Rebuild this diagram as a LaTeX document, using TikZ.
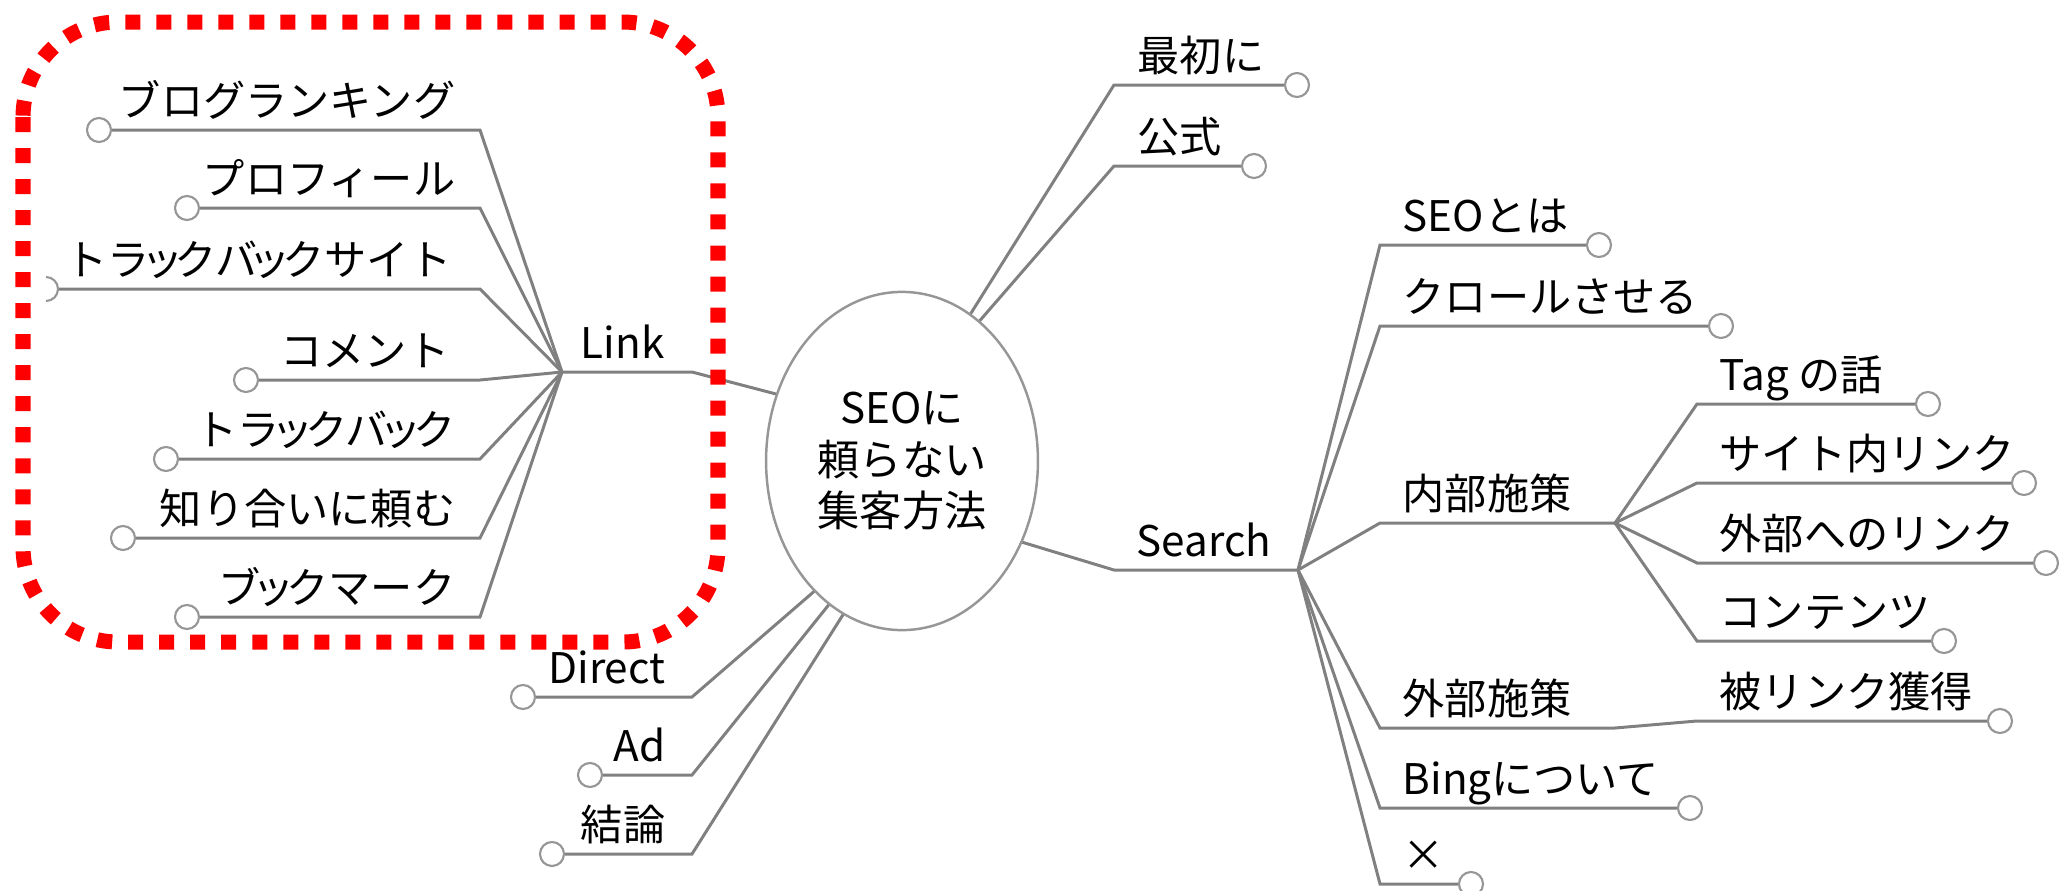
\documentclass[tikz,border=0pt]{standalone}
\usepackage{fontspec}
\setmainfont{Noto Sans CJK JP}
\usepackage{tikz}
\usetikzlibrary{calc,shapes.geometric}
\definecolor{branchgray}{RGB}{128,128,128}
\definecolor{knobgray}{RGB}{150,150,150}
\definecolor{boxred}{RGB}{255,0,0}
\def\smtsu{\makebox[0.6em]{ッ}}
\tikzset{
  branch/.style={draw=branchgray, line width=0.85pt},
  knob/.style={circle, draw=knobgray, fill=white, line width=0.6pt, minimum size=0.24cm, inner sep=0pt},
  word/.style={font=\fontsize{12}{14}\selectfont, inner sep=0pt},
  wordL/.style={word, anchor=base east},
  wordR/.style={word, anchor=base west},
}

\begin{document}
\begin{tikzpicture}[x=0.01cm, y=-0.01cm]
			%%%%% START %%%%%
			\useasboundingbox (0,0) rectangle (2059,890);
			
			\node[ellipse, draw=knobgray, line width=0.7pt, minimum width=2.56cm, minimum height=3.38cm, align=center, font=\fontsize{12}{14.7}\selectfont] (seo) at (902,461) {SEOに\\頼らない\\集客方法};
			
			%%%%% MAIN BRANCHES %%%%%
			\coordinate (link) at (562,372);
			\coordinate (link-c) at (692,372);
			\coordinate (first-c) at (1114,85);
			\node[knob] (first-k) at (1297,85) {};
			\coordinate (pub-c) at (1114,166);
			\node[knob] (pub-k) at (1254,166) {};
			\coordinate (search-c) at (1114,570);
			\coordinate (search) at (1298,570);
			\coordinate (direct-c) at (692,697);
			\node[knob] (direct-k) at (523,697) {};
			\coordinate (ad-c) at (692,775);
			\node[knob] (ad-k) at (590,775) {};
			\coordinate (concl-c) at (692,854);
			\node[knob] (concl-k) at (552,854) {};
			
			\draw[branch] (seo.152) -- (link-c) -- (link);
			\draw[branch] (seo.65) -- (first-c) -- (first-k);
			\draw[branch] (seo.61) -- (pub-c) -- (pub-k);
			\draw[branch] (seo.-34) -- (search-c) -- (search);
			\draw[branch] (seo.236) -- (direct-c) -- (direct-k);
			\draw[branch] (seo.243) -- (ad-c) -- (ad-k);
			\draw[branch] (seo.249) -- (concl-c) -- (concl-k);
			
			\node[wordL] (link-t) at ($(link-c)+(-27,-14)$) {Link};
			\node[wordR] (first-t) at ($(first-c)+(23,-14)$) {最初に};
			\node[wordR] (pub-t) at ($(pub-c)+(23,-14)$) {公式};
			\node[wordR] (search-t) at ($(search-c)+(22,-14)$) {Search};
			\node[wordL] (direct-t) at ($(direct-c)+(-26,-14)$) {Direct};
			\node[wordL] (ad-t) at ($(ad-c)+(-26,-14)$) {Ad};
			\node[wordL] (concl-t) at ($(concl-c)+(-26,-14)$) {結論};
			
			%%%%% LINK %%%%%
			\coordinate (blog-c) at (480,130);
			\node[knob] (blog-k) at (99,130) {};
			\coordinate (prof-c) at (480,208);
			\node[knob] (prof-k) at (187,208) {};
			\coordinate (tbsite-c) at (480,289);
			\coordinate (tbsite-k) at (46,289);
			\coordinate (comment-c) at (480,380);
			\node[knob] (comment-k) at (246,380) {};
			\coordinate (tb-c) at (480,459);
			\node[knob] (tb-k) at (166,459) {};
			\coordinate (friend-c) at (480,538);
			\node[knob] (friend-k) at (123,538) {};
			\coordinate (bmark-c) at (480,617);
			\node[knob] (bmark-k) at (187,617) {};
			
			\draw[branch] (link) -- (blog-c) -- (blog-k);
			\draw[branch] (link) -- (prof-c) -- (prof-k);
			\draw[branch] (link) -- (tbsite-c) -- ([xshift=0.12cm]tbsite-k);
			\draw[draw=knobgray, line width=0.6pt] ([yshift=-0.12cm]tbsite-k) arc[start angle=-90, end angle=90, radius=0.12cm];
			\draw[branch] (link) -- (comment-c) -- (comment-k);
			\draw[branch] (link) -- (tb-c) -- (tb-k);
			\draw[branch] (link) -- (friend-c) -- (friend-k);
			\draw[branch] (link) -- (bmark-c) -- (bmark-k);
			
			\node[wordL] (blog-t) at ($(blog-c)+(-24,-14)$) {ブログランキング};
			\node[wordL] (prof-t) at ($(prof-c)+(-24,-14)$) {プロフィール};
			\node[wordL] (tbsite-t) at ($(tbsite-c)+(-28,-14)$) {トラ\smtsu クバ\smtsu クサイト};
			\node[wordL] (comment-t) at ($(comment-c)+(-30,-14)$) {コメント};
			\node[wordL] (tb-t) at ($(tb-c)+(-24,-14)$) {トラ\smtsu クバ\smtsu ク};
			\node[wordL] (friend-t) at ($(friend-c)+(-24,-14)$) {知り合いに頼む};
			\node[wordL] (bmark-t) at ($(bmark-c)+(-24,-14)$) {ブ\smtsu クマーク};
			
			%%%%% SEARCH %%%%%
			\coordinate (what-c) at (1380,245);
			\node[knob] (what-k) at (1599,245) {};
			\coordinate (crawl-c) at (1380,326);
			\node[knob] (crawl-k) at (1721,326) {};
			\coordinate (inner-c) at (1380,523);
			\coordinate (inner) at (1615,523);
			\coordinate (outer-c) at (1380,728);
			\coordinate (outer) at (1615,728);
			\coordinate (backlink-c) at (1697,721);
			\node[knob] (backlink-k) at (2000,721) {};
			\coordinate (bing-c) at (1380,808);
			\node[knob] (bing-k) at (1690,808) {};
			\coordinate (cross-c) at (1380,884);
			\node[knob] (cross-k) at (1471,884) {};
			
			\draw[branch] (search) -- (what-c) -- (what-k);
			\draw[branch] (search) -- (crawl-c) -- (crawl-k);
			\draw[branch] (search) -- (inner-c) -- (inner);
			\draw[branch] (search) -- (outer-c) -- (outer) -- (backlink-c) -- (backlink-k);
			\draw[branch] (search) -- (bing-c) -- (bing-k);
			\draw[branch] (search) -- (cross-c) -- (cross-k);
			
			\node[wordR] (what-t) at ($(what-c)+(22,-14)$) {SEOとは};
			\node[wordR] (crawl-t) at ($(crawl-c)+(22,-14)$) {クロールさせる};
			\node[wordR] (inner-t) at ($(inner-c)+(22,-14)$) {内部施策};
			\node[wordR] (outer-t) at ($(outer-c)+(22,-14)$) {外部施策};
			\node[wordR] (backlink-t) at ($(backlink-c)+(22,-14)$) {被リンク獲得};
			\node[wordR] (bing-t) at ($(bing-c)+(22,-14)$) {Bingについて};
			\node[wordR] (cross-t) at ($(cross-c)+(22,-14)$) {×};
			
			%%%%% INNER %%%%%
			\coordinate (tag-c) at (1697,404);
			\node[knob] (tag-k) at (1928,404) {};
			\coordinate (site-c) at (1697,483);
			\node[knob] (site-k) at (2024,483) {};
			\coordinate (ext-c) at (1697,563);
			\node[knob] (ext-k) at (2046,563) {};
			\coordinate (content-c) at (1697,641);
			\node[knob] (content-k) at (1944,641) {};
			
			\draw[branch] (inner) -- (tag-c) -- (tag-k);
			\draw[branch] (inner) -- (site-c) -- (site-k);
			\draw[branch] (inner) -- (ext-c) -- (ext-k);
			\draw[branch] (inner) -- (content-c) -- (content-k);
			
			\node[wordR] (tag-t) at ($(tag-c)+(22,-14)$) {Tag の話};
			\node[wordR] (site-t) at ($(site-c)+(22,-14)$) {サイト内リンク};
			\node[wordR] (ext-t) at ($(ext-c)+(22,-14)$) {外部へのリンク};
			\node[wordR] (content-t) at ($(content-c)+(22,-14)$) {コンテンツ};
			
			%%%%% HIGHLIGHT %%%%%
			\draw[boxred, line width=0.15cm, dash pattern=on 0.15cm off 0.16cm, rounded corners=0.95cm] (23,22) rectangle (718,642);
			
			%%%%% END %%%%%
\end{tikzpicture}
\end{document}
